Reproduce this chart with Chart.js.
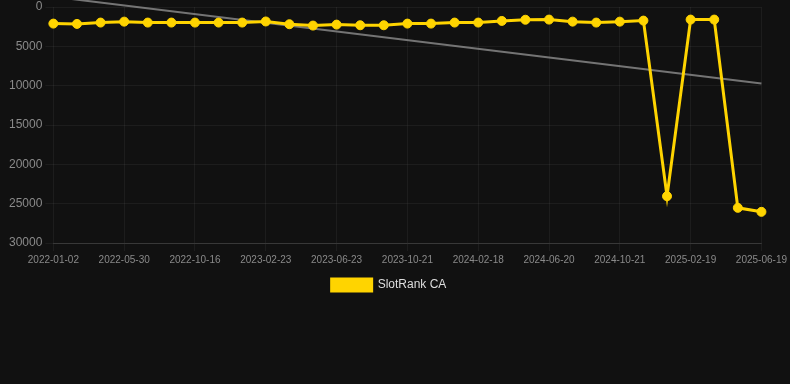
<!DOCTYPE html>
<html>
<head>
<meta charset="utf-8">
<script src="https://cdn.jsdelivr.net/npm/chart.js@4.4.1/dist/chart.umd.min.js"></script>
<style>
  html, body { margin: 0; padding: 0; background: #111111; }
  #wrap { position: relative; width: 790px; height: 301px; }
</style>
</head>
<body>
<div id="wrap"><canvas id="rankChart"></canvas></div>
<script>
// dates on the x axis
const dates = [
  '2022-01-02', '2022-02-19', '2022-04-08', '2022-05-30', '2022-07-15', '2022-08-31',
  '2022-10-16', '2022-12-01', '2023-01-08', '2023-02-23', '2023-04-09', '2023-05-19',
  '2023-06-23', '2023-08-06', '2023-09-14', '2023-10-21', '2023-12-02', '2024-01-10',
  '2024-02-18', '2024-04-01', '2024-05-11', '2024-06-20', '2024-07-31', '2024-09-10',
  '2024-10-21', '2024-12-01', '2025-01-09', '2025-02-19', '2025-04-01', '2025-05-10',
  '2025-06-19'
];

// rank values (lower is better)
const rankCA = [
  2110, 2150, 1980, 1860, 1980, 1980, 1980, 1980, 1980, 1840,
  2190, 2360, 2240, 2320, 2320, 2110, 2110, 1980, 1980, 1770,
  1620, 1600, 1860, 1980, 1860, 1730, 24050, 1600, 1600, 25530,
  26040
];

// trend line ends
const trendStart = -1300;
const trendEnd = 9710;

const yTicks = [0, 5000, 10000, 15000, 20000, 25000, 30000];

const gold = '#ffd400';

const ctx = document.getElementById('rankChart').getContext('2d');
const rankChart = new Chart(ctx, {
  type: 'line',
  data: {
    labels: dates,
    datasets: [{
      label: 'SlotRank CA',
      data: rankCA,
      borderColor: gold,
      backgroundColor: gold,
      borderWidth: 3,
      pointRadius: 4.5,
      pointBorderWidth: 1,
      pointHoverRadius: 6,
      pointBackgroundColor: gold,
      pointBorderColor: gold,
      tension: 0
    }, {
      label: 'trend',
      data: [
        { x: dates[0], y: trendStart },
        { x: dates[dates.length - 1], y: trendEnd }
      ],
      borderColor: 'rgba(150,150,150,0.75)',
      borderWidth: 2,
      pointRadius: 0,
      clip: false
    }]
  },
  options: {
    responsive: true,
    maintainAspectRatio: false,
    animation: false,
    layout: { padding: { left: 6, right: 18, top: 0, bottom: 0 } },
    scales: {
      x: {
        grid: { color: 'rgba(255,255,255,0.05)' },
        border: { color: 'rgba(255,255,255,0.12)' },
        ticks: {
          color: '#8a8a8a',
          font: { family: 'Arial, "Liberation Sans"', size: 10 },
          maxRotation: 0,
          autoSkip: true
        }
      },
      y: {
        reverse: true,
        min: 0,
        max: 30000,
        grid: { color: 'rgba(255,255,255,0.05)' },
        border: { display: false },
        afterBuildTicks: axis => { axis.ticks = yTicks.map(v => ({ value: v })); },
        ticks: {
          color: '#8a8a8a',
          font: { family: 'Arial, "Liberation Sans"', size: 12, lineHeight: 0.45 },
          callback: v => String(v)
        }
      }
    },
    plugins: {
      legend: {
        position: 'bottom',
        labels: {
          color: '#dddddd',
          font: { family: 'Arial, "Liberation Sans"', size: 12 },
          filter: item => item.text !== 'trend'
        }
      },
      tooltip: { enabled: false }
    }
  }
});
</script>
</body>
</html>
